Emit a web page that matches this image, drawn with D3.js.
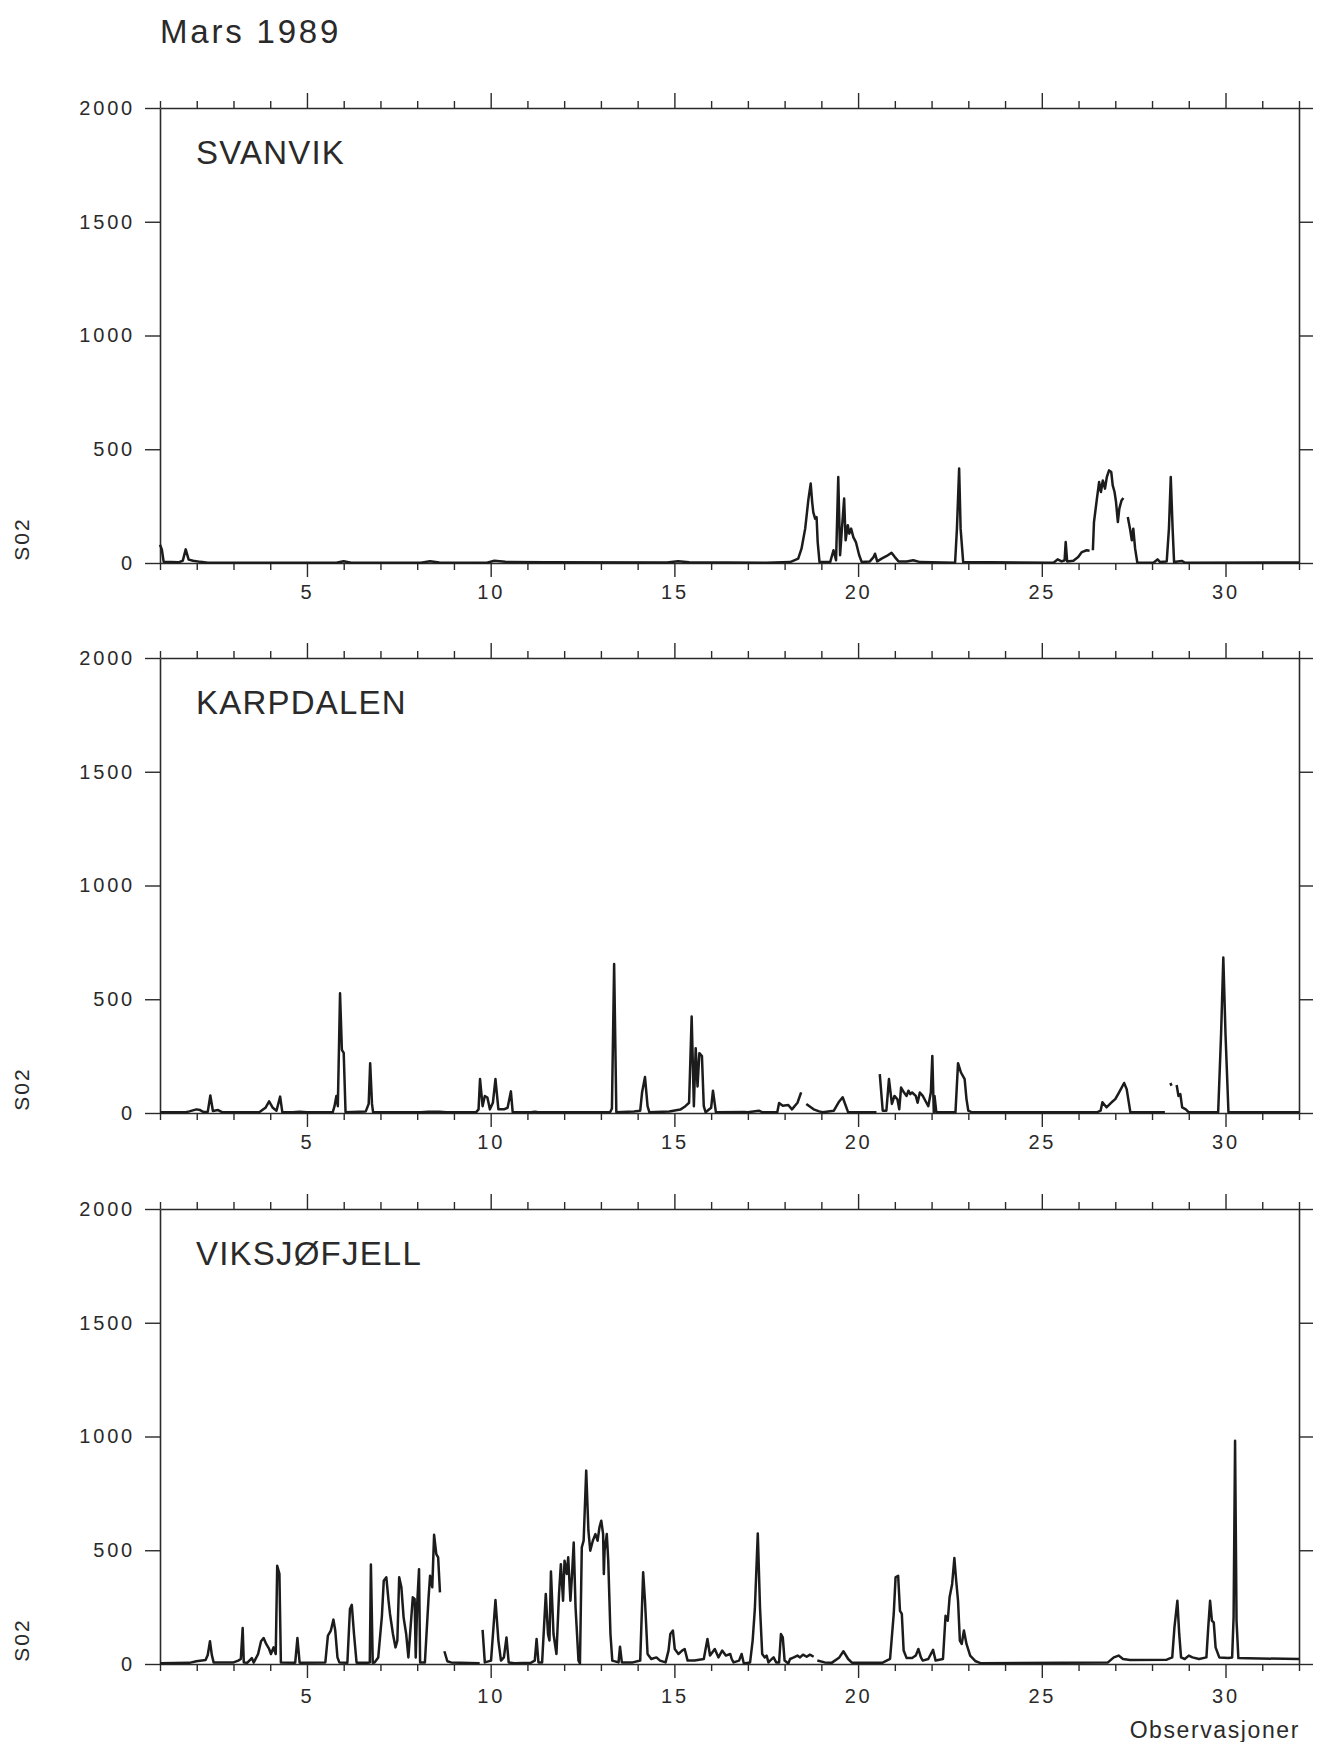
<!DOCTYPE html>
<html>
<head>
<meta charset="utf-8">
<script src="https://cdn.jsdelivr.net/npm/d3@7"></script>
<style>
  html, body { margin: 0; padding: 0; background: #fff; }
  svg { display: block; }
  text { font-family: "Liberation Sans", Arial, sans-serif; fill: #2a2a2a; }
</style>
</head>
<body>
<svg id="chart" width="1320" height="1742"></svg>
<script>
// Hourly SO2 readings, March 1989, as [day of month, value]; null marks a gap in the record.
const titleText = "Mars 1989";
const stationNames = ["SVANVIK", "KARPDALEN", "VIKSJØFJELL"];
const yTickValues = [0, 500, 1000, 1500, 2000];
const xMajorTicks = [5, 10, 15, 20, 25, 30];
const xLabel = "Observasjoner";
const yLabel = "S02";

const svanvik = [
  [1.0, 80], [1.05, 60], [1.1, 5], [1.5, 3], [1.62, 10], [1.7, 60], [1.78, 15], [1.9, 10], [2.1, 5], [2.3, 1],
  [5.8, 1], [6.0, 8], [6.2, 1], [8.1, 1], [8.35, 8], [8.6, 2], [9.9, 1], [10.1, 10], [10.4, 5], [11.5, 3],
  [14.8, 2], [15.1, 8], [15.4, 3], [17.5, 1], [18.15, 4], [18.37, 19], [18.46, 63], [18.56, 151], [18.65, 283],
  [18.71, 349], [18.75, 268], [18.78, 224], [18.83, 195], [18.87, 202], [18.9, 92], [18.95, 4], [19.24, 4],
  [19.33, 56], [19.4, 12], [19.46, 378], [19.51, 34], [19.56, 151], [19.62, 283], [19.66, 100], [19.72, 166],
  [19.76, 129], [19.81, 151], [19.87, 114], [19.94, 92], [20.03, 34], [20.1, 4], [20.32, 7], [20.42, 26],
  [20.46, 41], [20.52, 7], [20.64, 19], [20.78, 31], [20.91, 45], [21.0, 26], [21.1, 7], [21.32, 7], [21.5, 12],
  [21.69, 4], [22.64, 1], [22.69, 151], [22.75, 415], [22.79, 151], [22.86, 4], [25.32, 1], [25.43, 16],
  [25.54, 7], [25.62, 12], [25.65, 92], [25.69, 7], [25.86, 10], [25.99, 26], [26.09, 48], [26.22, 56],
  [26.3, 54], [26.34, null], [26.39, 56], [26.42, 180], [26.5, 283], [26.56, 356], [26.61, 312], [26.66, 363],
  [26.72, 327], [26.77, 378], [26.83, 407], [26.89, 400], [26.93, 341], [26.98, 312], [27.02, 268], [27.07, 180],
  [27.11, 239], [27.17, 275], [27.22, 286], [27.28, null], [27.34, 202], [27.4, 151], [27.45, 100], [27.49, 151],
  [27.54, 63], [27.6, 1], [28.04, 1], [28.15, 16], [28.22, 4], [28.4, 7], [28.46, 151], [28.51, 378],
  [28.56, 151], [28.6, 4], [28.81, 9], [28.9, 1], [32.0, 2]
];

const karpdalen = [
  [1.0, 3], [1.7, 3], [1.8, 7], [1.99, 16], [2.09, 13], [2.19, 4], [2.3, 5], [2.37, 77], [2.44, 9], [2.58, 13],
  [2.69, 4], [3.7, 3], [3.87, 23], [3.97, 51], [4.07, 23], [4.17, 10], [4.27, 72], [4.33, 3], [4.6, 3], [4.8, 5],
  [5.0, 3], [5.7, 3], [5.75, 30], [5.8, 75], [5.84, 30], [5.9, 526], [5.95, 278], [6.0, 264], [6.05, 3],
  [6.6, 7], [6.68, 40], [6.72, 219], [6.77, 40], [6.8, 3], [8.1, 3], [8.3, 6], [8.6, 5], [8.8, 3], [9.6, 3],
  [9.67, 16], [9.71, 149], [9.78, 30], [9.84, 75], [9.91, 68], [9.98, 16], [10.06, 45], [10.13, 149],
  [10.21, 16], [10.36, 16], [10.46, 23], [10.55, 95], [10.6, 3], [11.1, 3], [11.2, 6], [11.3, 3], [13.25, 3],
  [13.3, 20], [13.36, 655], [13.42, 3], [13.9, 7], [14.07, 10], [14.12, 90], [14.2, 158], [14.27, 30],
  [14.32, 3], [14.86, 7], [15.16, 15], [15.3, 30], [15.4, 45], [15.47, 424], [15.53, 30], [15.58, 285],
  [15.63, 117], [15.68, 263], [15.75, 250], [15.8, 30], [15.85, 3], [16.0, 23], [16.05, 98], [16.13, 3],
  [16.9, 4], [17.0, 3], [17.3, 10], [17.4, 3], [17.8, 3], [17.85, 44], [17.95, 32], [18.1, 35], [18.2, 16],
  [18.35, 45], [18.45, 91], [18.52, null], [18.59, 40], [18.79, 16], [18.94, 7], [19.04, 3], [19.34, 10],
  [19.47, 47], [19.58, 69], [19.73, 3], [20.5, 3], [20.55, null], [20.59, 171], [20.67, 10], [20.77, 10],
  [20.84, 149], [20.92, 40], [20.99, 75], [21.07, 60], [21.12, 16], [21.17, 112], [21.25, 90], [21.32, 75],
  [21.37, 98], [21.42, 83], [21.47, 90], [21.57, 75], [21.62, 45], [21.68, 90], [21.76, 75], [21.86, 45],
  [21.91, 30], [21.98, 90], [22.02, 251], [22.06, 3], [22.08, 75], [22.13, 3], [22.65, 3], [22.72, 219],
  [22.8, 178], [22.9, 149], [22.95, 61], [23.0, 10], [23.1, 3], [26.5, 3], [26.6, 10], [26.65, 47],
  [26.76, 25], [26.9, 47], [27.0, 61], [27.1, 90], [27.24, 132], [27.31, 105], [27.41, 3], [28.35, 3],
  [28.42, null], [28.5, 132], [28.53, 120], [28.6, null], [28.67, 123], [28.72, 75], [28.77, 83], [28.82, 25],
  [28.92, 16], [29.0, 3], [29.8, 3], [29.88, 350], [29.94, 683], [30.0, 345], [30.08, 3], [32.0, 3]
];

const viksjofjell = [
  [1.0, 3], [1.8, 5], [1.99, 12], [2.24, 18], [2.3, 40], [2.36, 100], [2.41, 40], [2.46, 7], [3.0, 7],
  [3.13, 15], [3.2, 22], [3.25, 158], [3.28, 7], [3.38, 6], [3.5, 26], [3.55, 6], [3.67, 44], [3.75, 100],
  [3.82, 114], [3.89, 88], [3.97, 66], [4.02, 44], [4.09, 73], [4.15, 44], [4.19, 432], [4.25, 396], [4.29, 7],
  [4.68, 6], [4.74, 114], [4.8, 6], [5.5, 7], [5.57, 125], [5.65, 147], [5.72, 195], [5.77, 147], [5.83, 29],
  [5.88, 7], [6.1, 6], [6.17, 242], [6.22, 260], [6.28, 132], [6.35, 6], [6.64, 6], [6.71, 7], [6.74, 437],
  [6.79, 6], [6.84, 7], [6.94, 29], [7.04, 212], [7.09, 366], [7.16, 381], [7.22, 278], [7.26, 220],
  [7.34, 132], [7.41, 73], [7.46, 103], [7.51, 381], [7.57, 337], [7.63, 205], [7.7, 132], [7.76, 29],
  [7.88, 293], [7.93, 286], [7.96, 29], [8.0, 264], [8.05, 417], [8.08, 7], [8.21, 7], [8.31, 293],
  [8.35, 388], [8.41, 337], [8.46, 568], [8.52, 483], [8.57, 469], [8.62, 315], [8.68, null], [8.74, 56],
  [8.82, 12], [8.92, 7], [9.7, 3], [9.74, null], [9.78, 150], [9.84, 7], [10.01, 15], [10.13, 281],
  [10.21, 103], [10.28, 15], [10.36, 29], [10.43, 117], [10.49, 7], [10.65, 3], [11.1, 6], [11.2, 15],
  [11.25, 110], [11.3, 7], [11.4, 7], [11.5, 308], [11.56, 132], [11.6, 103], [11.64, 407], [11.71, 132],
  [11.79, 44], [11.86, 308], [11.91, 439], [11.97, 278], [12.01, 454], [12.07, 396], [12.11, 469],
  [12.17, 278], [12.21, 381], [12.26, 534], [12.31, 249], [12.39, 15], [12.43, 3], [12.48, 513], [12.53, 542],
  [12.6, 850], [12.66, 586], [12.71, 498], [12.78, 542], [12.85, 571], [12.91, 542], [12.96, 600],
  [13.01, 630], [13.06, 571], [13.08, 396], [13.1, 498], [13.16, 571], [13.2, 454], [13.26, 132], [13.31, 15],
  [13.48, 7], [13.52, 76], [13.57, 7], [13.87, 7], [14.07, 15], [14.15, 403], [14.2, 278], [14.27, 44],
  [14.37, 22], [14.51, 29], [14.61, 15], [14.76, 7], [14.84, 59], [14.89, 132], [14.96, 147], [15.01, 66],
  [15.11, 44], [15.21, 59], [15.28, 66], [15.36, 15], [15.55, 15], [15.8, 22], [15.85, 66], [15.9, 110],
  [15.97, 37], [16.1, 66], [16.2, 29], [16.3, 59], [16.4, 37], [16.52, 44], [16.56, 22], [16.61, 7],
  [16.76, 15], [16.83, 44], [16.89, 2], [17.06, 7], [17.13, 103], [17.19, 242], [17.27, 574], [17.33, 249],
  [17.39, 44], [17.46, 29], [17.51, 37], [17.56, 7], [17.65, 22], [17.7, 29], [17.77, 7], [17.85, 7],
  [17.9, 132], [17.95, 117], [18.0, 15], [18.1, 2], [18.15, 22], [18.25, 29], [18.35, 37], [18.42, 29],
  [18.5, 41], [18.6, 32], [18.69, 41], [18.79, 32], [18.84, null], [18.89, 15], [19.09, 7], [19.29, 6],
  [19.49, 29], [19.6, 56], [19.73, 22], [19.83, 6], [20.67, 6], [20.87, 22], [20.97, 220], [21.02, 381],
  [21.09, 388], [21.14, 234], [21.19, 220], [21.24, 59], [21.32, 26], [21.47, 26], [21.57, 37], [21.64, 66],
  [21.71, 29], [21.76, 15], [21.91, 22], [22.04, 62], [22.11, 15], [22.31, 22], [22.38, 212], [22.44, 190],
  [22.49, 293], [22.56, 352], [22.62, 466], [22.67, 366], [22.72, 278], [22.77, 103], [22.82, 88],
  [22.88, 147], [22.95, 88], [23.05, 37], [23.2, 12], [23.35, 3], [26.8, 7], [26.96, 29], [27.09, 37],
  [27.21, 22], [27.4, 18], [28.4, 19], [28.55, 29], [28.61, 161], [28.69, 278], [28.74, 132], [28.79, 29],
  [28.89, 22], [29.0, 37], [29.1, 29], [29.28, 22], [29.48, 29], [29.53, 161], [29.58, 278], [29.63, 190],
  [29.68, 183], [29.73, 73], [29.83, 29], [30.08, 26], [30.18, 29], [30.22, 205], [30.26, 981], [30.3, 190],
  [30.35, 26], [30.6, 25], [32.0, 22]
];

const series = [svanvik, karpdalen, viksjofjell];

// ---- layout ----
const svg = d3.select("#chart");
const left = 160, right = 1299;
const panelTops = [108, 658, 1209];
const panelHeight = 455;
const ink = "#2a2a2a";

const x = d3.scaleLinear().domain([1, 32]).range([left, right]);
const allDays = d3.range(1, 33);
const minorDays = allDays.filter(d => !xMajorTicks.includes(d));

svg.append("text")
  .attr("x", 160).attr("y", 43)
  .attr("font-size", 33).attr("letter-spacing", 2.8)
  .text(titleText);

function styleAxis(g) {
  g.selectAll(".domain").attr("stroke", ink).attr("stroke-width", 1.6);
  g.selectAll(".tick line").attr("stroke", ink).attr("stroke-width", 1.4);
  g.selectAll("text").attr("font-family", "Liberation Sans, Arial, sans-serif")
    .attr("font-size", 20).attr("letter-spacing", 2.8).attr("fill", ink);
}

series.forEach((data, i) => {
  const top = panelTops[i], bottom = top + panelHeight;
  const y = d3.scaleLinear().domain([0, 2000]).range([bottom, top]);
  const g = svg.append("g");

  // bottom axis: day ticks, longer at multiples of five
  g.append("g").attr("transform", `translate(0,${bottom})`)
    .call(d3.axisBottom(x).tickValues(minorDays).tickSize(7).tickSizeOuter(0).tickFormat(""))
    .call(styleAxis);
  g.append("g").attr("transform", `translate(0,${bottom})`)
    .call(d3.axisBottom(x).tickValues(xMajorTicks).tickSize(14).tickSizeOuter(0).tickPadding(i === 2 ? 11 : 8).tickFormat(d3.format("d")))
    .call(styleAxis)
    .call(a => a.select(".domain").remove());

  // top axis
  g.append("g").attr("transform", `translate(0,${top})`)
    .call(d3.axisTop(x).tickValues(minorDays).tickSize(7).tickSizeOuter(0).tickFormat(""))
    .call(styleAxis);
  g.append("g").attr("transform", `translate(0,${top})`)
    .call(d3.axisTop(x).tickValues(xMajorTicks).tickSize(15).tickSizeOuter(0).tickFormat(""))
    .call(styleAxis)
    .call(a => a.select(".domain").remove());

  // value axes
  g.append("g").attr("transform", `translate(${left},0)`)
    .call(d3.axisLeft(y).tickValues(yTickValues).tickSize(15).tickSizeOuter(0).tickPadding(10).tickFormat(d3.format("d")))
    .call(styleAxis);
  g.append("g").attr("transform", `translate(${right},0)`)
    .call(d3.axisRight(y).tickValues(yTickValues).tickSize(14).tickSizeOuter(0).tickFormat(""))
    .call(styleAxis);

  // station name
  g.append("text")
    .attr("x", 196).attr("y", top + 56)
    .attr("font-size", 33).attr("letter-spacing", 1.2)
    .text(stationNames[i]);

  // axis title
  g.append("text")
    .attr("transform", `translate(29,${bottom - 24}) rotate(-90)`)
    .attr("text-anchor", "middle")
    .attr("font-size", 21).attr("letter-spacing", 2)
    .text(yLabel);

  // the series
  const line = d3.line()
    .defined(d => d[1] !== null)
    .x(d => x(d[0]))
    .y(d => y(d[1]));
  g.append("path")
    .datum(data)
    .attr("fill", "none")
    .attr("stroke", "#1c1c1c")
    .attr("stroke-width", 2.5)
    .attr("stroke-linejoin", "round")
    .attr("d", line);
});

svg.append("text")
  .attr("x", 1300).attr("y", 1738)
  .attr("text-anchor", "end")
  .attr("font-family", "DejaVu Sans Mono, monospace")
  .attr("font-size", 23).attr("letter-spacing", 1.6)
  .text(xLabel);
</script>
</body>
</html>
